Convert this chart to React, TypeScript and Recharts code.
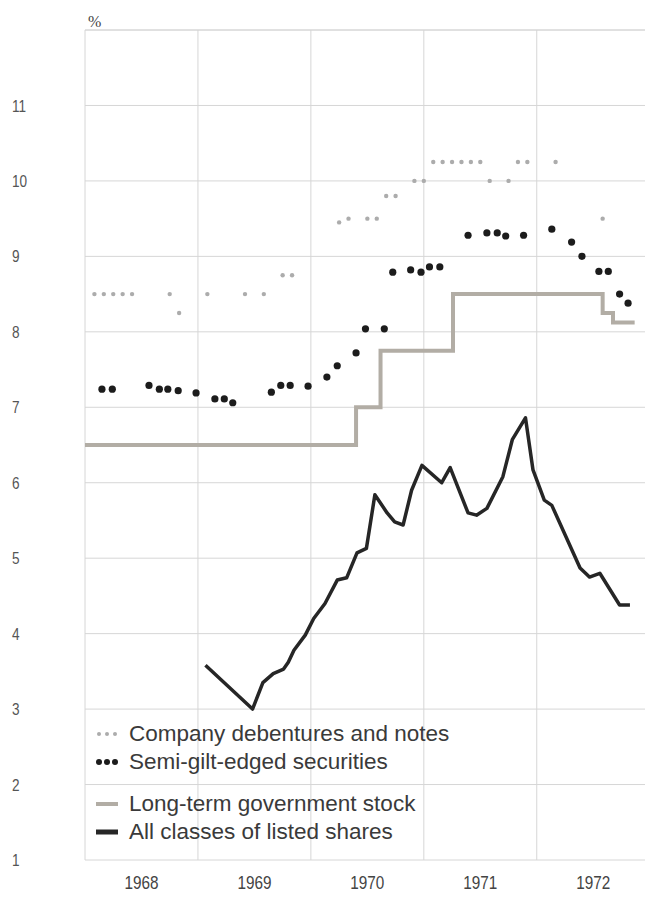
import { ComposedChart, Line, Scatter, XAxis, YAxis, CartesianGrid, ReferenceLine } from 'recharts';

// x values are months counted from the start of 1968 (0 = Jan 1968)
const yearLabels = ['1968', '1969', '1970', '1971', '1972'];
const yearMidMonths = [6, 18, 30, 42, 54];
const yearStartMonths = [0, 12, 24, 36, 48];
const yTicks = [1, 2, 3, 4, 5, 6, 7, 8, 9, 10, 11, 12];

const debentureMonths = [1, 2, 3, 4, 5, 9, 10, 13, 17, 19, 21, 22, 27, 28, 30, 31, 32, 33, 35, 36, 37, 38, 39, 40, 41, 42, 43, 45, 46, 47, 50, 55];
const debentureYields = [8.5, 8.5, 8.5, 8.5, 8.5, 8.5, 8.25, 8.5, 8.5, 8.5, 8.75, 8.75, 9.45, 9.5, 9.5, 9.5, 9.8, 9.8, 10, 10, 10.25, 10.25, 10.25, 10.25, 10.25, 10.25, 10, 10, 10.25, 10.25, 10.25, 9.5];

const semiGiltMonths = [1.8, 2.9, 6.8, 7.9, 8.8, 9.9, 11.8, 13.8, 14.8, 15.7, 19.8, 20.8, 21.8, 23.7, 25.7, 26.8, 28.8, 29.8, 31.8, 32.7, 34.6, 35.7, 36.6, 37.7, 40.7, 42.7, 43.8, 44.7, 46.6, 49.6, 51.7, 52.8, 54.6, 55.6, 56.8, 57.7];
const semiGiltYields = [7.24, 7.24, 7.29, 7.24, 7.24, 7.22, 7.19, 7.11, 7.11, 7.06, 7.2, 7.29, 7.29, 7.28, 7.4, 7.55, 7.72, 8.04, 8.04, 8.79, 8.82, 8.79, 8.86, 8.86, 9.28, 9.31, 9.31, 9.27, 9.28, 9.36, 9.19, 9.0, 8.8, 8.8, 8.5, 8.38];

const govtMonths = [0, 28.8, 31.4, 39.1, 55, 56.1, 58.4];
const govtYields = [6.5, 7, 7.75, 8.5, 8.25, 8.125, 8.125];

const shareMonths = [12.8, 17.8, 18.9, 20.0, 21.1, 21.6, 22.2, 23.4, 24.3, 25.5, 26.8, 27.8, 28.9, 29.9, 30.8, 32.1, 32.9, 33.8, 34.7, 35.8, 37.9, 38.8, 40.7, 41.6, 42.7, 44.4, 45.4, 46.8, 47.6, 48.8, 49.6, 52.6, 53.6, 54.7, 56.8, 57.9];
const shareYields = [3.58, 3.0, 3.35, 3.47, 3.53, 3.62, 3.78, 3.98, 4.2, 4.4, 4.71, 4.74, 5.07, 5.13, 5.84, 5.6, 5.48, 5.44, 5.9, 6.23, 6.0, 6.2, 5.6, 5.57, 5.66, 6.08, 6.57, 6.86, 6.17, 5.77, 5.7, 4.87, 4.75, 4.8, 4.38, 4.38];

const toPoints = (months: number[], values: number[]) => months.map((m, i) => ({ m, v: values[i] }));

const debentures = toPoints(debentureMonths, debentureYields);
const semiGilt = toPoints(semiGiltMonths, semiGiltYields);
const govt = toPoints(govtMonths, govtYields);
const shares = toPoints(shareMonths, shareYields);

const GRID = '#d6d6d6';
const DEB_COLOR = '#acacac';
const SEMI_COLOR = '#1c1c1c';
const GOVT_COLOR = '#b2ada5';
const SHARE_COLOR = '#262626';
const TICK_FONT = "'Liberation Sans', Arial, sans-serif";

const legendItems = [
  { name: 'Company debentures and notes', color: DEB_COLOR, kind: 'dots', r: 2 },
  { name: 'Semi-gilt-edged securities', color: SEMI_COLOR, kind: 'dots', r: 3 },
  { name: 'Long-term government stock', color: GOVT_COLOR, kind: 'line', h: 4 },
  { name: 'All classes of listed shares', color: SHARE_COLOR, kind: 'line', h: 5 },
];

// condensed look for the tick numbers
const YTick = (props: any) => {
  const { x, y, payload } = props;
  if (payload.value === 12) return null;
  return (
    <g transform={`translate(${x},${y}) scale(0.8,1)`}>
      <text dy="0.36em" textAnchor="start" fill="#555" fontSize={17} fontFamily={TICK_FONT}>
        {payload.value}
      </text>
    </g>
  );
};

const XTick = (props: any) => {
  const { x, y, payload, index } = props;
  return (
    <g transform={`translate(${x},${y}) scale(0.85,1)`}>
      <text dy="0.71em" textAnchor="middle" fill="#444" fontSize={18} fontFamily={TICK_FONT}>
        {yearLabels[index] ?? payload.value}
      </text>
    </g>
  );
};

function LegendIcon({ item }: { item: any }) {
  if (item.kind === 'dots') {
    return (
      <svg width={26} height={10} style={{ marginRight: 8 }}>
        {[4, 12, 20].map((cx) => (
          <circle key={cx} cx={cx} cy={5} r={item.r} fill={item.color} />
        ))}
      </svg>
    );
  }
  return (
    <svg width={26} height={10} style={{ marginRight: 8 }}>
      <rect x={1} y={5 - item.h / 2} width={22} height={item.h} fill={item.color} />
    </svg>
  );
}

export default function App() {
  return (
    <div style={{ position: 'absolute', left: 0, top: 0, width: 645, height: 898, background: '#fff' }}>
      <ComposedChart width={645} height={898} margin={{ top: 30, right: 0, bottom: 0, left: 0 }}>
        <CartesianGrid vertical={false} stroke={GRID} />
        <XAxis
          type="number"
          dataKey="m"
          domain={[0, 59.5]}
          ticks={yearMidMonths}
          allowDataOverflow
          axisLine={false}
          tickLine={false}
          tickSize={0}
          tickMargin={16}
          height={38}
          tick={<XTick />}
        />
        <YAxis
          type="number"
          dataKey="v"
          domain={[1, 12]}
          ticks={yTicks}
          width={85}
          axisLine={false}
          tickLine={false}
          tickSize={0}
          tickMargin={73}
          tick={<YTick />}
        />
        {yearStartMonths.map((m) => (
          <ReferenceLine key={m} x={m} stroke={GRID} />
        ))}
        <ReferenceLine
          y={12}
          stroke={GRID}
          label={{ value: '%', position: 'insideBottomLeft', offset: 3, fill: '#444', fontSize: 16 }}
        />
        <Line
          data={govt}
          dataKey="v"
          type="stepAfter"
          stroke={GOVT_COLOR}
          strokeWidth={4}
          dot={false}
          isAnimationActive={false}
        />
        <Line
          data={shares}
          dataKey="v"
          type="linear"
          stroke={SHARE_COLOR}
          strokeWidth={3.5}
          strokeLinejoin="round"
          dot={false}
          isAnimationActive={false}
        />
        <Scatter
          data={debentures}
          dataKey="v"
          isAnimationActive={false}
          shape={(p: any) => <circle cx={p.cx} cy={p.cy} r={2.2} fill={DEB_COLOR} />}
        />
        <Scatter
          data={semiGilt}
          dataKey="v"
          isAnimationActive={false}
          shape={(p: any) => <circle cx={p.cx} cy={p.cy} r={3.6} fill={SEMI_COLOR} />}
        />
      </ComposedChart>
      <div
        style={{
          position: 'absolute',
          left: 95,
          top: 720,
          fontFamily: "'Liberation Sans', Arial, sans-serif",
          fontSize: 22.5,
          color: '#3a3a3a',
        }}
      >
        {legendItems.map((item, i) => (
          <div
            key={item.name}
            style={{ display: 'flex', alignItems: 'center', height: 28, marginTop: i === 2 ? 14 : 0, whiteSpace: 'nowrap' }}
          >
            <LegendIcon item={item} />
            <span>{item.name}</span>
          </div>
        ))}
      </div>
    </div>
  );
}
